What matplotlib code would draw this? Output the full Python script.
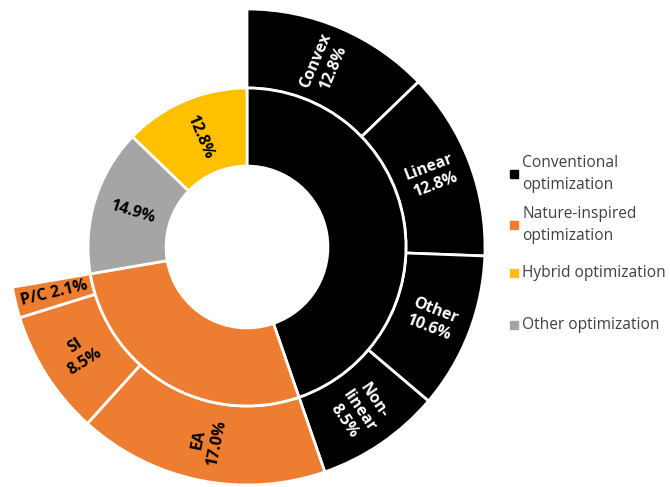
import matplotlib.pyplot as plt
from matplotlib.patches import Rectangle
import numpy as np

plt.rcParams['font.family'] = ['Open Sans', 'DejaVu Sans']

# inner ring: main categories (clockwise from top)
groups = ['Conventional\noptimization', 'Nature-inspired\noptimization', 'Other optimization', 'Hybrid optimization']
group_vals = [44.7, 27.6, 14.9, 12.8]
group_colors = ['#000000', '#ED7D31', '#A5A5A5', '#FFC000']
group_labels = ['', '', '14.9%', '12.8%']

# outer ring: sub-categories of conventional and nature-inspired
subs = ['Convex\n12.8%', 'Linear\n12.8%', 'Other\n10.6%', 'Non-\nlinear\n8.5%',
        'EA\n17.0%', 'SI\n8.5%', 'P/C 2.1%']
sub_vals = [12.8, 12.8, 10.6, 8.5, 17.0, 8.5, 2.1]
sub_colors = ['#000000'] * 4 + ['#ED7D31'] * 3
sub_text = ['white'] * 4 + ['black'] * 3

# legend order
legend_names = ['Conventional\noptimization', 'Nature-inspired\noptimization', 'Hybrid optimization', 'Other optimization']
legend_colors = ['#000000', '#ED7D31', '#FFC000', '#A5A5A5']

W, H = 670, 487
fig = plt.figure(figsize=(W / 100, H / 100), dpi=100)
cx, cy, R = 247, 247, 238
ax = fig.add_axes([(cx - R) / W, (H - cy - R) / H, 2 * R / W, 2 * R / H])

r_hole, r_mid = 0.34, 0.668

# outer ring, with an invisible gap for the categories that have no breakdown
gap = 100 - sum(sub_vals)
wedges, _ = ax.pie(sub_vals + [gap], radius=1, startangle=90, counterclock=False,
                   colors=sub_colors + ['none'],
                   wedgeprops=dict(width=1 - r_mid, edgecolor='white', linewidth=2))
wedges[-1].set_edgecolor('none')

ax.pie(group_vals, radius=r_mid, startangle=90, counterclock=False, colors=group_colors,
       wedgeprops=dict(width=r_mid - r_hole, edgecolor='white', linewidth=2))


def put_label(vals, labels, tcolors, r):
    start = 90
    for v, lab, tc in zip(vals, labels, tcolors):
        mid = start - v / 100 * 360 / 2
        start -= v / 100 * 360
        if not lab:
            continue
        a = np.deg2rad(mid)
        rot = mid
        if rot < -90 or rot > 90:
            rot += 180
        rot = (rot + 180) % 360 - 180
        ax.text(r * np.cos(a), r * np.sin(a), lab, ha='center', va='center', rotation=rot,
                rotation_mode='anchor', color=tc, fontsize=11.5, fontweight='bold',
                linespacing=1.2)


put_label(sub_vals, subs, sub_text, (1 + r_mid) / 2)
put_label(group_vals, group_labels, ['black'] * 4, (r_mid + r_hole) / 2)

ax.set_xlim(-1, 1)
ax.set_ylim(-1, 1)
ax.set_aspect('equal')
ax.axis('off')

# legend
leg_y = [174, 225, 273, 325]
for name, col, y in zip(legend_names, legend_colors, leg_y):
    fig.patches.append(Rectangle((510 / W, (H - y - 4) / H), 8 / W, 8 / H, color=col,
                                 transform=fig.transFigure))
    fig.text(522 / W, (H - y) / H, name, ha='left', va='center', fontsize=11.2,
             color='#404040', linespacing=1.45)

fig.savefig('out.png', dpi=100)
